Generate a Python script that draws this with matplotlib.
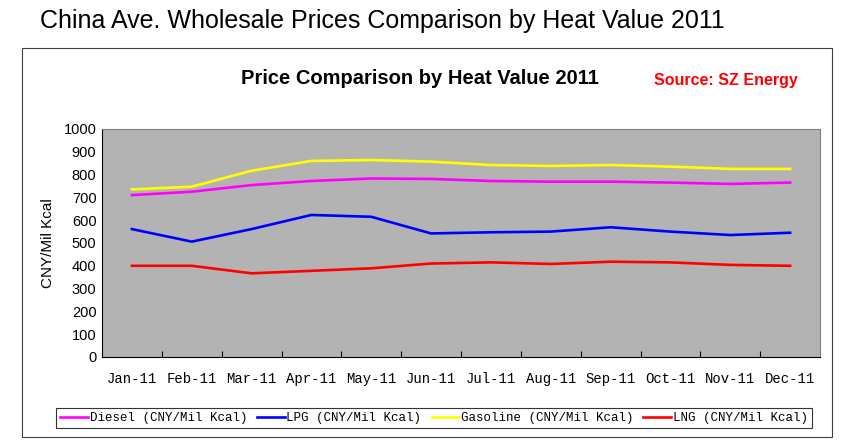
import matplotlib
matplotlib.use("Agg")
import matplotlib.pyplot as plt
from matplotlib.patches import Rectangle

# monthly prices, CNY per million kcal
months = ["Jan-11", "Feb-11", "Mar-11", "Apr-11", "May-11", "Jun-11",
          "Jul-11", "Aug-11", "Sep-11", "Oct-11", "Nov-11", "Dec-11"]
diesel = [710, 725, 754, 772, 783, 781, 772, 769, 769, 765, 759, 765]
lpg = [561, 506, 561, 623, 615, 542, 547, 550, 569, 550, 535, 545]
gasoline = [735, 747, 817, 860, 864, 857, 842, 838, 842, 835, 825, 825]
lng = [400, 400, 367, 378, 389, 410, 415, 408, 418, 415, 404, 400]

fig = plt.figure(figsize=(8.65, 4.46), dpi=100)

# outer chart border
fig.patches.append(Rectangle((22 / 865, 1 - 437 / 446), 810 / 865, 389 / 446,
                             transform=fig.transFigure, fill=False,
                             edgecolor="#404040", linewidth=0.8))

fig.text(40 / 865, 1 - 21 / 446, "China Ave. Wholesale Prices Comparison by Heat Value 2011",
         fontsize=18, family="Liberation Sans", va="center", ha="left")
fig.text(420 / 865, 1 - 78 / 446, "Price Comparison by Heat Value 2011",
         fontsize=14.5, family="Liberation Sans", weight="bold", va="center", ha="center")
fig.text(654 / 865, 1 - 80 / 446, "Source: SZ Energy", color="red",
         fontsize=11.5, family="Liberation Sans", weight="bold", va="center", ha="left")

ax = fig.add_axes([102 / 865, 1 - 357 / 446, 718 / 865, 228 / 446])
ax.set_facecolor("#B3B3B3")

x = list(range(len(months)))
ax.plot(x, diesel, color="#FF00FF", lw=1.9, label="Diesel (CNY/Mil Kcal)")
ax.plot(x, lpg, color="#0000FF", lw=1.9, label="LPG (CNY/Mil Kcal)")
ax.plot(x, gasoline, color="#FFFF00", lw=1.9, label="Gasoline (CNY/Mil Kcal)")
ax.plot(x, lng, color="#FF0000", lw=1.9, label="LNG (CNY/Mil Kcal)")

ax.set_xlim(-0.5, len(months) - 0.5)
ax.set_ylim(0, 1000)
ax.set_yticks(range(0, 1001, 100))
ax.tick_params(axis="y", length=0, pad=4, labelsize=10.5)
for lbl in ax.get_yticklabels():
    lbl.set_family("Liberation Sans")

# ticks sit between the months, labels under each month
ax.set_xticks([i + 0.5 for i in range(len(months) - 1)])
ax.set_xticklabels([])
ax.set_xticks(x, minor=True)
ax.set_xticklabels(months, minor=True, family="Liberation Mono", fontsize=10)
ax.tick_params(axis="x", which="major", direction="in", length=4)
ax.tick_params(axis="x", which="minor", length=0, pad=11)

for side in ["top", "right"]:
    ax.spines[side].set_color("#808080")
for side in ["left", "bottom"]:
    ax.spines[side].set_color("black")

ax.set_ylabel("CNY/Mil Kcal", family="Liberation Sans", fontsize=11, labelpad=6)

leg = fig.legend(loc="center", bbox_to_anchor=(434 / 865, 1 - 418 / 446), ncol=4,
                 prop={"family": "Liberation Mono", "size": 9}, frameon=True,
                 fancybox=False, edgecolor="black", handlelength=2.2,
                 handletextpad=0.15, columnspacing=0.8, borderpad=0.35)
leg.get_frame().set_linewidth(0.8)

fig.savefig("out.png", dpi=100)
